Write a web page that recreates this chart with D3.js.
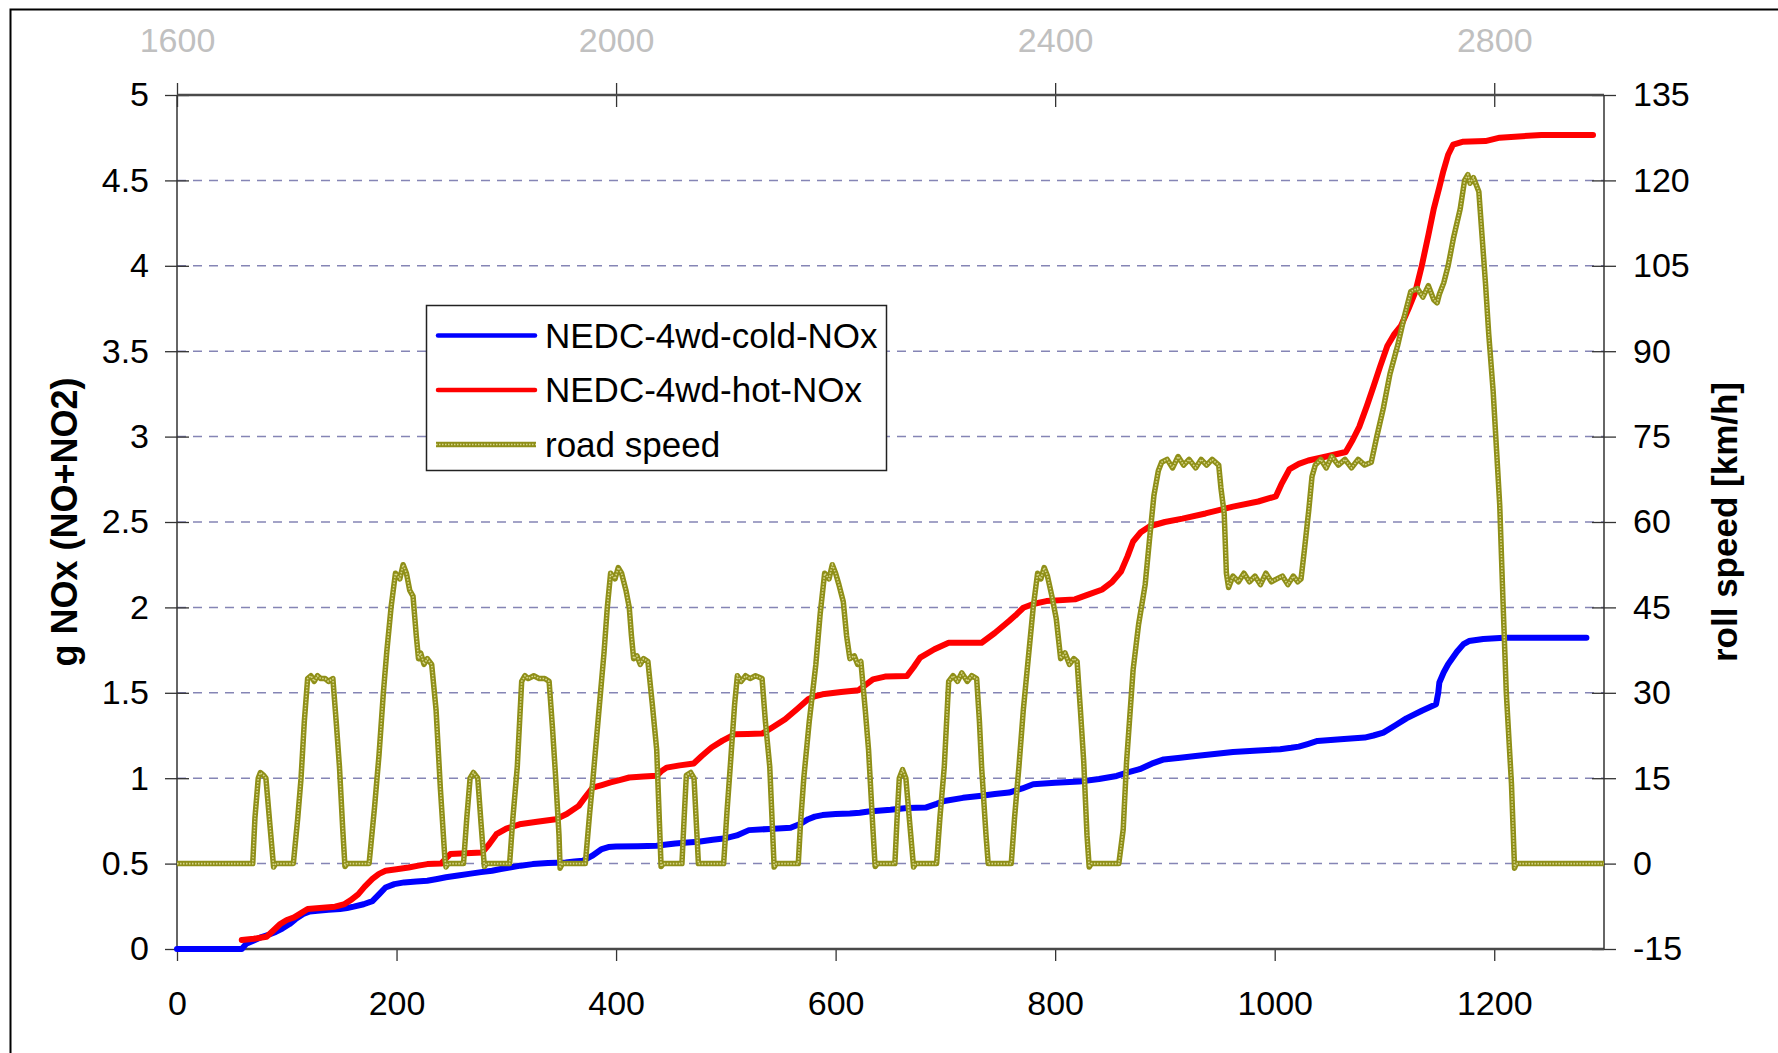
<!DOCTYPE html>
<html>
<head>
<meta charset="utf-8">
<script src="https://cdn.jsdelivr.net/npm/d3@7"></script>
<style>
  html, body { margin: 0; padding: 0; background: #fff; }
  svg text { font-family: 'Liberation Sans', Arial, sans-serif; }
</style>
</head>
<body>
<svg id="chart" width="1778" height="1053"></svg>
<script>
// test time [s] on the bottom axis, left axis g NOx, right axis km/h
const bottomTicks = [0, 200, 400, 600, 800, 1000, 1200];
const topTicks = [1600, 2000, 2400, 2800];
const leftTicks = [0, 0.5, 1, 1.5, 2, 2.5, 3, 3.5, 4, 4.5, 5];
const rightTicks = [-15, 0, 15, 30, 45, 60, 75, 90, 105, 120, 135];
const seriesNames = ['NEDC-4wd-cold-NOx', 'NEDC-4wd-hot-NOx', 'road speed'];

// [time, g NOx]
const coldNOx = [[0,0],[59,0],[63,0.03],[70,0.05],[77,0.07],[84,0.085],[90,0.1],[96,0.12],[102.5,0.146],[108,0.175],[115,0.205],[121,0.22],[128,0.224],[138,0.23],[148.5,0.234],[155,0.24],[161,0.248],[170,0.262],[178,0.28],[184,0.32],[190,0.36],[198,0.38],[207,0.39],[218,0.395],[228,0.4],[237,0.41],[245,0.42],[256,0.43],[266,0.44],[277,0.45],[287,0.458],[295,0.468],[303,0.477],[313,0.488],[324,0.497],[338,0.503],[354,0.507],[362,0.512],[370,0.517],[378,0.545],[387,0.585],[393,0.597],[400,0.6],[420,0.602],[437,0.604],[446,0.612],[454,0.618],[465,0.623],[475,0.628],[488,0.64],[500,0.649],[510,0.665],[521,0.696],[540,0.703],[559,0.71],[567,0.73],[575,0.76],[581,0.775],[588,0.784],[600,0.79],[613,0.793],[622,0.798],[630,0.805],[650,0.815],[665,0.825],[682,0.828],[692,0.85],[699,0.867],[716,0.885],[733,0.897],[745,0.907],[758,0.916],[770,0.94],[780,0.965],[800,0.973],[822,0.98],[840,0.995],[856,1.013],[867,1.035],[877,1.053],[888,1.085],[899,1.11],[914,1.12],[928,1.13],[945,1.142],[962,1.154],[985,1.162],[1005,1.17],[1015,1.178],[1022,1.185],[1030,1.2],[1039,1.218],[1060,1.228],[1082,1.238],[1090,1.25],[1099,1.267],[1110,1.31],[1120,1.35],[1134,1.395],[1147,1.433],[1149,1.5],[1150,1.56],[1154,1.62],[1158,1.667],[1166,1.74],[1172,1.785],[1177,1.803],[1190,1.815],[1209,1.823],[1284,1.823]];

const hotNOx = [[59,0.053],[70,0.06],[81.6,0.072],[88,0.11],[94,0.146],[100,0.17],[106.7,0.185],[113,0.21],[119,0.234],[130,0.24],[144,0.248],[152.7,0.263],[158,0.285],[165,0.32],[171,0.365],[178,0.41],[184,0.44],[190,0.458],[200,0.467],[211,0.477],[220,0.488],[228,0.497],[240.6,0.5],[245,0.53],[249,0.556],[263,0.56],[278,0.565],[284,0.61],[291,0.672],[300,0.705],[312,0.73],[328,0.745],[345,0.76],[355,0.79],[366,0.838],[372,0.89],[378.7,0.945],[387,0.96],[395,0.975],[404,0.99],[412,1.004],[425,1.01],[437,1.014],[441,1.04],[446,1.062],[458,1.075],[470.7,1.086],[478,1.13],[487,1.18],[497,1.22],[508,1.257],[520,1.259],[533,1.261],[543,1.3],[554,1.345],[565,1.405],[575,1.462],[581,1.48],[588,1.491],[605,1.505],[621,1.515],[627,1.545],[634,1.579],[645,1.595],[665,1.598],[671,1.65],[677,1.706],[690,1.755],[703,1.793],[733,1.793],[745,1.85],[758,1.92],[765,1.96],[771,1.998],[780,2.02],[792,2.037],[818,2.047],[830,2.075],[843,2.105],[852,2.15],[860,2.21],[866,2.3],[871,2.386],[878,2.44],[886,2.474],[900,2.5],[916,2.52],[937,2.55],[962,2.59],[985,2.62],[1001,2.65],[1006,2.72],[1013.6,2.81],[1022,2.84],[1030.6,2.86],[1048,2.885],[1064.7,2.91],[1071,2.98],[1077,3.057],[1084,3.18],[1090,3.293],[1096,3.41],[1102.6,3.53],[1109,3.6],[1115,3.648],[1122,3.75],[1128,3.844],[1134,4.0],[1140,4.18],[1145,4.336],[1150,4.46],[1153.6,4.553],[1158,4.65],[1162.6,4.71],[1171,4.726],[1192,4.73],[1205,4.75],[1243,4.766],[1290,4.766]];

// [time, km/h]
const roadSpeed = [[0,0],[69,0],[71,8],[74,15],[76,16],[79,15.5],[81,15],[85,6],[88,-0.6],[90,0],[106,0],
[110,8],[113,15],[116,25],[119,32.5],[122,33],[125,32],[128,33],[131,32.5],[135,32.5],[138,32],[142,32.5],[145,25],[148,17],[151,6],[153,-0.5],[155,0],[175,0],
[180,10],[184,19],[188,30],[191,37],[195,45],[199,51],[203,50],[206,52.5],[209,51],[212,48],[215,47],[218,40],[220,36],[222,37],[225,35],[228,36],[232,35],[236,27],[240,13],[244,1],[245,-0.6],[247,0],[261,0],
[264,8],[267,15],[270,16],[274,15],[277,7],[280,-0.5],[282,0],[303,0],
[306,8],[310,17],[314,32],[317,33],[320,32.5],[325,33],[330,32.5],[335,32.5],[339,32],[342,24],[345,15],[348,5],[349,-0.8],[351,0],[372,0],
[376,9],[379,15],[384,26],[389,37],[392,45],[395,51],[399,50],[402,52],[405,51],[409,48],[412,45],[414,40],[416,36],[419,36.5],[422,35],[425,36],[429,35.5],[433,28],[437,20],[441,-0.5],[443,0],[460,0],
[462,8],[464,15.5],[468,16],[471,15],[475,0],[498,0],
[501,9],[504,17],[508,28],[510.5,33],[514,32],[518,33],[522,32.5],[527,33],[533,32.5],[536,25],[540,17],[544,-0.6],[546,0],[566,0],
[568,7],[571,15],[576,25],[582,35],[586,44],[590,51],[594,50],[597,52.5],[600,51],[603,49],[607,46],[610,40],[613,36],[617,36.5],[620,35],[623,35.5],[627,27],[630,20],[634,6],[636,-0.5],[638,0],[654,0],
[656,8],[658,15],[661,16.5],[664,15],[668,6],[671,-0.6],[673,0],[692,0],
[695,8],[699,17],[703,32],[707,33],[711,32],[715,33.5],[720,32],[724,33],[728.5,32.5],[731,25],[733,17],[737,5],[739,0],[760,0],
[763,8],[767,17],[771,27],[775,35],[780,45],[784,51],[787,50],[790,52],[793,50.5],[797,47],[801,43],[805,36],[809,37],[813,35],[817,36],[820,35.5],[823,27],[826,18],[829,5],[831,-0.6],[833,0],[858,0],
[862,6],[865,17.7],[871,34],[876,42],[882,49],[886,57],[890,64.7],[894,69],[897,70.5],[902,71],[907,69.5],[912,71.5],[917,70],[922,71],[928,69.5],[933,71],[938,70],[943,71],[949,70],[951,66],[954,61.5],[956,51],[958,48.5],[962,50.5],[967,49.5],[972,51],[977,49.5],[982,50.5],[987,49],[992,51],[997,49.5],[1002,50],[1007,50.5],[1012,49],[1017,50.5],[1021,49.5],[1024,50],[1027,55],[1031,62],[1034,68],[1037,70],[1042,71],[1047,69.5],[1052,71.5],[1058,70],[1064,71],[1070,69.5],[1076,71],[1082,70],[1088,70.5],[1093,75],[1099,80],[1105,86],[1112,91],[1118,96],[1124,100.5],[1130,101],[1135,99.5],[1140,101.5],[1145,99],[1148,98.5],[1150,100],[1154,102],[1158,105],[1163,110],[1169,115],[1173,120],[1176,121],[1178,119.5],[1181,120.5],[1184,119],[1186,118],[1189,110],[1192,102],[1195,93],[1199,83],[1202,73],[1205,63],[1208,46],[1211,30],[1215.7,14],[1218.5,-0.8],[1220,0],[1300,0]];

const plot = { left: 177, right: 1604, top: 95, bottom: 949 };
const fontFamily = "'Liberation Sans', Arial, sans-serif";

const svg = d3.select('#chart');

const x = d3.scaleLinear().domain([0, 1300]).range([plot.left, plot.right]);
const xTop = d3.scaleLinear().domain([1600, 2900]).range([plot.left, plot.right]);
const yLeft = d3.scaleLinear().domain([0, 5]).range([plot.bottom, plot.top]);
const yRight = d3.scaleLinear().domain([-15, 135]).range([plot.bottom, plot.top]);

// outer chart border (runs off the right / bottom of the picture)
svg.append('rect')
  .attr('x', 10.5).attr('y', 9.5)
  .attr('width', 1800).attr('height', 1100)
  .attr('fill', '#fff')
  .attr('stroke', '#000')
  .attr('stroke-width', 2);

// dashed gridlines
svg.append('g')
  .selectAll('line')
  .data(leftTicks.filter(d => d > 0 && d < 5))
  .join('line')
  .attr('x1', plot.left).attr('x2', plot.right)
  .attr('y1', d => yLeft(d)).attr('y2', d => yLeft(d))
  .attr('stroke', '#8585b5')
  .attr('stroke-width', 1.5)
  .attr('stroke-dasharray', '9,7');

const plainNumber = d => String(d);

function styleAxis(g, color) {
  g.select('.domain').remove();
  g.selectAll('.tick line').attr('stroke', '#333').attr('stroke-width', 1.3);
  g.selectAll('.tick text')
    .attr('fill', color)
    .style('font-family', fontFamily)
    .style('font-size', '34px');
}

const leftAxis = svg.append('g')
  .attr('transform', `translate(${plot.left},0)`)
  .call(d3.axisLeft(yLeft).tickValues(leftTicks).tickFormat(plainNumber).tickSize(12).tickPadding(16));
styleAxis(leftAxis, '#000');
leftAxis.selectAll('.tick line').attr('x1', -12).attr('x2', 12);

const rightAxis = svg.append('g')
  .attr('transform', `translate(${plot.right},0)`)
  .call(d3.axisRight(yRight).tickValues(rightTicks).tickFormat(plainNumber).tickSize(12).tickPadding(17));
styleAxis(rightAxis, '#000');
rightAxis.selectAll('.tick line').attr('x1', -12).attr('x2', 12);

const bottomAxis = svg.append('g')
  .attr('transform', `translate(0,${plot.bottom})`)
  .call(d3.axisBottom(x).tickValues(bottomTicks).tickFormat(plainNumber).tickSize(12).tickPadding(30));
styleAxis(bottomAxis, '#000');

const topAxis = svg.append('g')
  .attr('transform', `translate(0,${plot.top})`)
  .call(d3.axisTop(xTop).tickValues(topTicks).tickFormat(plainNumber).tickSize(12).tickPadding(31));
styleAxis(topAxis, '#c0c0c0');
topAxis.selectAll('.tick line').attr('y1', 12).attr('y2', -12);

// plot frame
const frame = svg.append('g');
frame.append('line')
  .attr('x1', plot.left).attr('x2', plot.right)
  .attr('y1', plot.top).attr('y2', plot.top)
  .attr('stroke', '#4a4a4a').attr('stroke-width', 2.5);
frame.append('line')
  .attr('x1', plot.left).attr('x2', plot.right)
  .attr('y1', plot.bottom).attr('y2', plot.bottom)
  .attr('stroke', '#4a4a4a').attr('stroke-width', 2.5);
frame.append('line')
  .attr('x1', plot.left).attr('x2', plot.left)
  .attr('y1', plot.top).attr('y2', plot.bottom)
  .attr('stroke', '#333').attr('stroke-width', 1.5);
frame.append('line')
  .attr('x1', plot.right).attr('x2', plot.right)
  .attr('y1', plot.top).attr('y2', plot.bottom)
  .attr('stroke', '#333').attr('stroke-width', 1.5);

// series
const noxLine = d3.line().x(d => x(d[0])).y(d => yLeft(d[1]));
const speedLine = d3.line().x(d => x(d[0])).y(d => yRight(d[1]));

svg.append('path')
  .attr('d', noxLine(coldNOx))
  .attr('fill', 'none')
  .attr('stroke', '#0000ff')
  .attr('stroke-width', 6)
  .attr('stroke-linecap', 'round')
  .attr('stroke-linejoin', 'round');

svg.append('path')
  .attr('d', noxLine(hotNOx))
  .attr('fill', 'none')
  .attr('stroke', '#ff0000')
  .attr('stroke-width', 6)
  .attr('stroke-linecap', 'round')
  .attr('stroke-linejoin', 'round');

svg.append('path')
  .attr('d', speedLine(roadSpeed))
  .attr('fill', 'none')
  .attr('stroke', '#8f8f18')
  .attr('stroke-width', 5.5)
  .attr('stroke-linejoin', 'round');
svg.append('path')
  .attr('d', speedLine(roadSpeed))
  .attr('fill', 'none')
  .attr('stroke', '#d6d68c')
  .attr('stroke-width', 1.6)
  .attr('stroke-dasharray', '1.5,1.5');

// axis titles
svg.append('text')
  .attr('transform', 'translate(77,522) rotate(-90)')
  .attr('text-anchor', 'middle')
  .style('font-size', '36px')
  .style('font-weight', 'bold')
  .text('g NOx (NO+NO2)');

svg.append('text')
  .attr('transform', 'translate(1737,522) rotate(-90)')
  .attr('text-anchor', 'middle')
  .style('font-size', '35px')
  .style('font-weight', 'bold')
  .text('roll speed [km/h]');

// legend
const legend = svg.append('g');
legend.append('rect')
  .attr('x', 426.5).attr('y', 305.5)
  .attr('width', 460).attr('height', 165)
  .attr('fill', '#fff')
  .attr('stroke', '#222')
  .attr('stroke-width', 1.5);

const legendRows = legend.selectAll('g.row')
  .data(seriesNames)
  .join('g')
  .attr('class', 'row')
  .attr('transform', (d, i) => `translate(0,${335.5 + i * 54.5})`);

legendRows.each(function(d, i) {
  const row = d3.select(this);
  if (i < 2) {
    row.append('line')
      .attr('x1', 438).attr('x2', 535)
      .attr('stroke', i === 0 ? '#0000ff' : '#ff0000')
      .attr('stroke-width', 4.5)
      .attr('stroke-linecap', 'round');
  } else {
    row.append('line')
      .attr('x1', 436).attr('x2', 536)
      .attr('stroke', '#8f8f18')
      .attr('stroke-width', 5.5);
    row.append('line')
      .attr('x1', 436).attr('x2', 536)
      .attr('stroke', '#d6d68c')
      .attr('stroke-width', 1.6)
      .attr('stroke-dasharray', '1.5,1.5');
  }
  row.append('text')
    .attr('x', 545)
    .attr('y', 12)
    .style('font-size', '35px')
    .text(d);
});
</script>
</body>
</html>
